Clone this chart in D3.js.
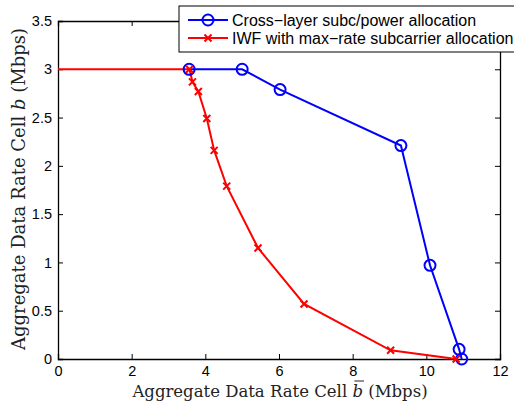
<!DOCTYPE html>
<html>
<head>
<style>
body { margin: 0; background: #fff; }
.tick text { font-family: "Liberation Sans", Arial, sans-serif; font-size: 14.5px; fill: #000; }
.lbl { font-family: "DejaVu Serif", "Liberation Serif", serif; font-size: 16.5px; fill: #222; }
.leg { font-family: "Liberation Sans", Arial, sans-serif; font-size: 16px; fill: #000; }
</style>
<script src="https://cdn.jsdelivr.net/npm/d3@7"></script>
</head>
<body>
<svg width="514" height="404"></svg>
<script>
var blueX = [3.56, 5.0, 6.03, 9.31, 10.1, 10.89, 10.96];
var blueY = [3.0, 3.0, 2.79, 2.21, 0.97, 0.10, 0.0];
var redX = [0, 3.57, 3.65, 3.81, 4.04, 4.24, 4.58, 5.43, 6.68, 9.03, 10.81];
var redY = [3.0, 3.0, 2.87, 2.77, 2.49, 2.16, 1.79, 1.15, 0.57, 0.09, 0.0];
var xTicks = [0, 2, 4, 6, 8, 10, 12];
var yTicks = [0, 0.5, 1, 1.5, 2, 2.5, 3, 3.5];
var names = ["Cross\u2212layer subc/power allocation", "IWF with max\u2212rate subcarrier allocation"];

var svg = d3.select("svg"),
    margin = {top: 21, right: 14, bottom: 45, left: 58},
    width = 514 - margin.left - margin.right,
    height = 404 - margin.top - margin.bottom;

var x = d3.scaleLinear().domain([0, 12]).range([0, width]),
    y = d3.scaleLinear().domain([0, 3.5]).range([height, 0]);

var g = svg.append("g")
    .attr("transform", "translate(" + margin.left + "," + margin.top + ")");

var fmt = function(d) { return String(d); };

g.append("g").attr("transform", "translate(0," + height + ")")
    .call(d3.axisBottom(x).tickValues(xTicks).tickSize(-5).tickPadding(7).tickFormat(fmt));
g.append("g")
    .call(d3.axisLeft(y).tickValues(yTicks).tickSize(-5).tickPadding(6).tickFormat(fmt));
g.append("g")
    .call(d3.axisTop(x).tickValues(xTicks).tickSize(-5).tickFormat(""));
g.append("g").attr("transform", "translate(" + width + ",0)")
    .call(d3.axisRight(y).tickValues(yTicks).tickSize(-5).tickFormat(""));
g.selectAll(".domain").attr("stroke", "#000").attr("stroke-width", 1.3);
g.selectAll(".tick line").attr("stroke", "#000");

var line = d3.line().x(function(d) { return x(d[0]); }).y(function(d) { return y(d[1]); });
var blue = blueX.map(function(v, i) { return [v, blueY[i]]; });
var red = redX.map(function(v, i) { return [v, redY[i]]; });

g.append("path").datum(blue).attr("d", line)
    .attr("fill", "none").attr("stroke", "#0000ff").attr("stroke-width", 2);
g.append("path").datum(red).attr("d", line)
    .attr("fill", "none").attr("stroke", "#ff0000").attr("stroke-width", 2);

g.selectAll(".circ").data(blue).enter().append("circle")
    .attr("cx", function(d) { return x(d[0]); })
    .attr("cy", function(d) { return y(d[1]); })
    .attr("r", 5.5).attr("fill", "none").attr("stroke", "#0000ff").attr("stroke-width", 2);

function cross(sel, s) {
  sel.append("path")
    .attr("d", "M" + (-s) + "," + (-s) + "L" + s + "," + s + "M" + (-s) + "," + s + "L" + s + "," + (-s))
    .attr("stroke", "#ff0000").attr("stroke-width", 2).attr("fill", "none");
}
g.selectAll(".xm").data(red.slice(1)).enter().append("g")
    .attr("transform", function(d) { return "translate(" + x(d[0]) + "," + y(d[1]) + ")"; })
    .call(cross, 3.5);

// axis labels
var xl = svg.append("text").attr("class", "lbl")
    .attr("x", 280).attr("y", 397)
    .attr("text-anchor", "middle")
    .html("Aggregate Data Rate Cell <tspan font-style='italic'>b</tspan> (Mbps)");
// bar over b
var bi = "Aggregate Data Rate Cell ".length;
var node = xl.node();
var bx0 = node.getStartPositionOfChar(bi).x, bx1 = node.getEndPositionOfChar(bi).x;
svg.append("line").attr("x1", bx0 + 2).attr("x2", bx1 + 1).attr("y1", 381).attr("y2", 381)
    .attr("stroke", "#222").attr("stroke-width", 1);
svg.append("text").attr("class", "lbl")
    .style("font-size", "18px")
    .attr("transform", "translate(25,189) rotate(-90)")
    .attr("text-anchor", "middle")
    .html("Aggregate Data Rate Cell <tspan font-style='italic'>b</tspan> (Mbps)");

// legend
var lg = svg.append("g").attr("transform", "translate(179,6)");
lg.append("rect").attr("width", 340).attr("height", 46)
    .attr("fill", "#fff").attr("stroke", "#000").attr("stroke-width", 1);
var rows = [14, 32];
lg.append("line").attr("x1", 9).attr("x2", 49).attr("y1", rows[0]).attr("y2", rows[0])
    .attr("stroke", "#0000ff").attr("stroke-width", 2);
lg.append("circle").attr("cx", 29).attr("cy", rows[0]).attr("r", 5.5)
    .attr("fill", "none").attr("stroke", "#0000ff").attr("stroke-width", 2);
lg.append("line").attr("x1", 9).attr("x2", 49).attr("y1", rows[1]).attr("y2", rows[1])
    .attr("stroke", "#ff0000").attr("stroke-width", 2);
lg.append("g").attr("transform", "translate(29," + rows[1] + ")").call(cross, 3.5);
names.forEach(function(n, i) {
  lg.append("text").attr("class", "leg").attr("x", 53).attr("y", rows[i]).attr("dy", "0.35em").text(n);
});
</script>
</body>
</html>
